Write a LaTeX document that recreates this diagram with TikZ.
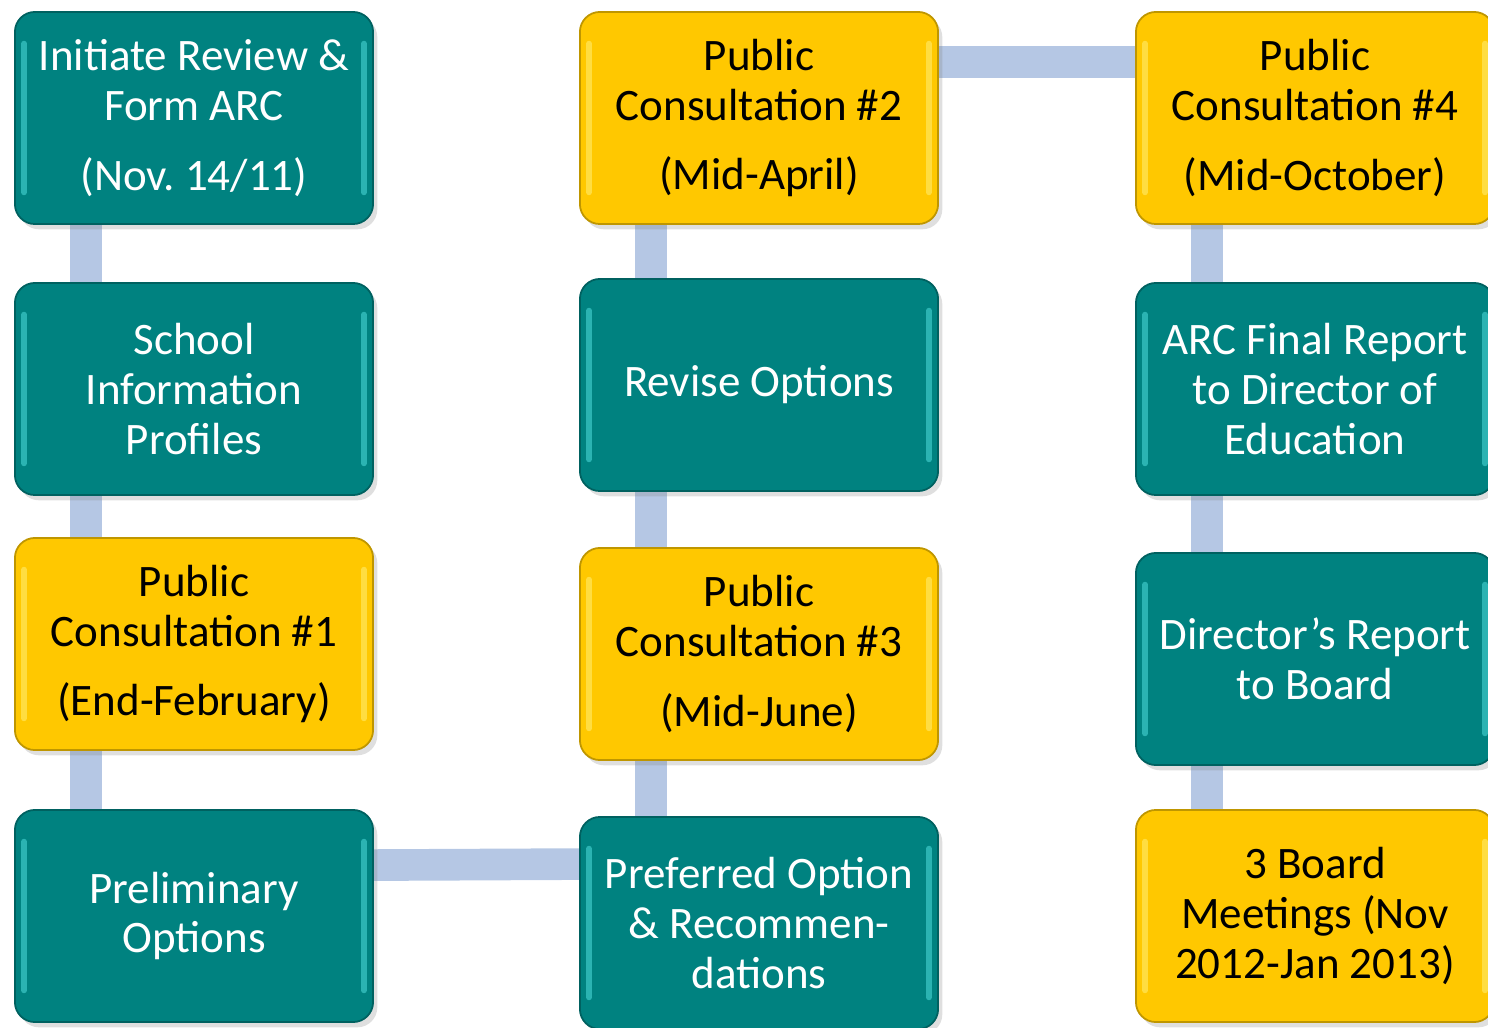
\documentclass[tikz,border=0pt]{standalone}
\usepackage{fontspec}
\setmainfont{Carlito}
\usepackage{xcolor}
\usepackage{tikz}
\usetikzlibrary{positioning,backgrounds,shadows}

\definecolor{tealbox}{RGB}{0,130,128}
\definecolor{tealhi}{RGB}{80,220,220}
\definecolor{goldbox}{RGB}{255,200,0}
\definecolor{goldhi}{RGB}{255,240,120}
\definecolor{barblue}{RGB}{181,199,228}

\begin{document}
\begin{tikzpicture}[x=0.01cm,y=-0.01cm, line cap=round, line join=round]
	% ===== frame =====
	\useasboundingbox (0,0) rectangle (1488,1028);
	
	% ===== styles =====
	\tikzset{
		box/.style={draw=#1!75!black, line width=0.5pt, fill=#1, rounded corners=0.2cm,
			minimum width=3.58cm, minimum height=2.12cm, inner sep=0pt, align=center,
			font=\fontsize{12.8}{14.2}\selectfont,
			drop shadow={opacity=0.25, shadow xshift=1.2pt, shadow yshift=-1.5pt}},
		hl/.style={path picture={
				\draw[#1, opacity=0.55, line width=1.6pt]
				([xshift=2.6pt,yshift=-9pt]path picture bounding box.north west) --
				([xshift=2.6pt,yshift=9pt]path picture bounding box.south west);
				\draw[#1, opacity=0.55, line width=1.6pt]
				([xshift=-2.6pt,yshift=-9pt]path picture bounding box.north east) --
				([xshift=-2.6pt,yshift=9pt]path picture bounding box.south east);}},
		tbox/.style={box=tealbox, hl=tealhi, text=white},
		gbox/.style={box=goldbox, hl=goldhi, text=black},
		bar/.style={draw=barblue, line width=9pt, line cap=butt}
	}
	
	% ===== left column =====
	\node[tbox] (a1) at (194,118) {Initiate Review \&\\Form ARC\\[5.5pt](Nov.\ 14/11)};
	\node[tbox] (a2) at (194,389) {School\\Information\\Profiles};
	\node[gbox] (a3) at (194,644) {Public\\Consultation \#1\\[5.5pt](End-February)};
	\node[tbox] (a4) at (194,916) {Preliminary\\Options};
	
	% ===== middle column =====
	\node[gbox] (b1) at (759,118) {Public\\Consultation \#2\\[5.5pt](Mid-April)};
	\node[tbox] (b2) at (759,385) {Revise Options};
	\node[gbox] (b3) at (759,654) {Public\\Consultation \#3\\[5.5pt](Mid-June)};
	\node[tbox] (b4) at (759,923) {Preferred Option\\\& Recommen-\\dations};
	
	% ===== right column =====
	\node[gbox] (c1) at (1315,118) {Public\\Consultation \#4\\[5.5pt](Mid-October)};
	\node[tbox] (c2) at (1315,389) {ARC Final Report\\to Director of\\Education};
	\node[tbox] (c3) at (1315,659) {Director’s Report\\to Board};
	\node[gbox] (c4) at (1315,916) {3 Board\\Meetings (Nov\\2012-Jan 2013)};
	
	% ===== connectors =====
	\begin{scope}[on background layer]
		\foreach \u/\v in {a1/a2,a2/a3,a3/a4,b1/b2,b2/b3,b3/b4,c1/c2,c2/c3,c3/c4}{
			\draw[bar] ([xshift=0.72cm]\u.south west) -- ([xshift=0.72cm]\v.north west);
		}
		\draw[bar] ([yshift=-0.51cm]b1.north east) -- ([yshift=-0.51cm]c1.north west);
		\draw[bar] ([yshift=-0.56cm]a4.north east) -- ([yshift=-0.48cm]b4.north west);
	\end{scope}
\end{tikzpicture}
\end{document}
